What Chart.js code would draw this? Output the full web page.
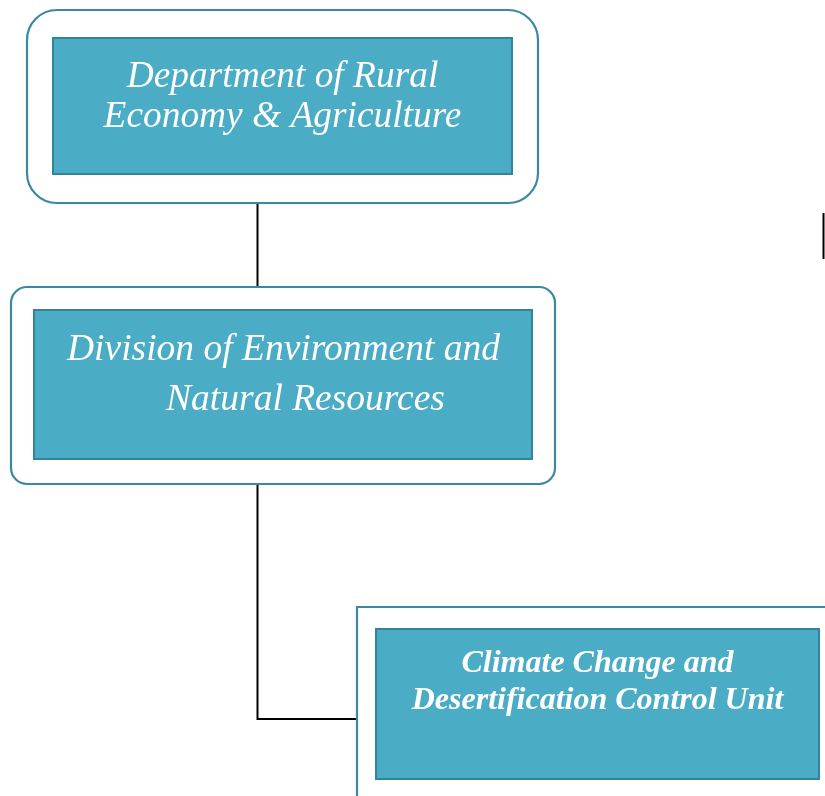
<!DOCTYPE html>
<html>
<head>
<meta charset="utf-8">
<script src="https://cdn.jsdelivr.net/npm/chart.js@4.4.1/dist/chart.umd.min.js"></script>
<style>
html,body{margin:0;padding:0;background:#fff;}
#wrap{width:825px;height:796px;position:relative;}
</style>
</head>
<body>
<div id="wrap"><canvas id="c" width="825" height="796"></canvas></div>
<script>
// ---- data ----
const nodeNames = [
  "Department of Rural Economy & Agriculture",
  "Division of Environment and Natural Resources",
  "Climate Change and Desertification Control Unit"
];
const nodeLines = [
  ["Department of Rural", "Economy & Agriculture"],
  ["Division of Environment and", "Natural Resources"],
  ["Climate Change and", "Desertification Control Unit"]
];
const nodeParents = [null, 0, 1];
const nodeLevels = [0, 1, 2];

// ---- layout / style (axis units, 1 unit = 1px) ----
const outerBoxes = [[27, 10, 538, 203, 30], [11, 287, 555, 484, 16], [357, 607, 840, 810, 0]];
const innerBoxes = [[53, 38, 512, 174], [34, 310, 532, 459], [376, 629, 819, 779]];
const textPos = [[[282.5, 87], [282.5, 127]], [[283.5, 360], [305.5, 410]], [[597.5, 672], [597.5, 709]]];
const textFonts = ['italic 37.4px "Liberation Serif"', 'italic 37.5px "Liberation Serif"', 'bold italic 32px "Liberation Serif"'];
const connectorPaths = {
  1: [[257.5, 203], [257.5, 287]],
  2: [[257.5, 484], [257.5, 719], [357, 719]]
};
const extraLines = [[[823.5, 213], [823.5, 259]]];
const fillColor = '#4BACC6', innerStroke = '#31849B', outerStroke = '#3A88A1';

const points = nodeNames.map((n, i) => ({
  x: (innerBoxes[i][0] + innerBoxes[i][2]) / 2,
  y: (innerBoxes[i][1] + innerBoxes[i][3]) / 2,
  name: n, level: nodeLevels[i]
}));

function rr(ctx, x0, y0, x1, y1, r) {
  ctx.beginPath();
  if (r > 0) {
    ctx.moveTo(x0 + r, y0);
    ctx.lineTo(x1 - r, y0);
    ctx.arcTo(x1, y0, x1, y0 + r, r);
    ctx.lineTo(x1, y1 - r);
    ctx.arcTo(x1, y1, x1 - r, y1, r);
    ctx.lineTo(x0 + r, y1);
    ctx.arcTo(x0, y1, x0, y1 - r, r);
    ctx.lineTo(x0, y0 + r);
    ctx.arcTo(x0, y0, x0 + r, y0, r);
    ctx.closePath();
  } else {
    ctx.rect(x0, y0, x1 - x0, y1 - y0);
  }
}

const orgPlugin = {
  id: 'org',
  afterDatasetsDraw(chart) {
    const ctx = chart.ctx, xs = chart.scales.x, ys = chart.scales.y;
    const X = v => xs.getPixelForValue(v), Y = v => ys.getPixelForValue(v);
    ctx.save();
    // connectors
    ctx.strokeStyle = '#000';
    ctx.lineWidth = 2;
    nodeParents.forEach((p, i) => {
      if (p === null) return;
      const path = connectorPaths[i];
      ctx.beginPath();
      path.forEach((pt, k) => k ? ctx.lineTo(X(pt[0]), Y(pt[1])) : ctx.moveTo(X(pt[0]), Y(pt[1])));
      ctx.stroke();
    });
    extraLines.forEach(path => {
      ctx.beginPath();
      path.forEach((pt, k) => k ? ctx.lineTo(X(pt[0]), Y(pt[1])) : ctx.moveTo(X(pt[0]), Y(pt[1])));
      ctx.stroke();
    });
    // boxes
    points.forEach((pt, i) => {
      const o = outerBoxes[i];
      rr(ctx, X(o[0]), Y(o[1]), X(o[2]), Y(o[3]), o[4]);
      ctx.fillStyle = '#fff';
      ctx.fill();
      ctx.lineWidth = 2.2;
      ctx.strokeStyle = outerStroke;
      ctx.stroke();
      const b = innerBoxes[i];
      ctx.beginPath();
      ctx.rect(X(b[0]), Y(b[1]), X(b[2]) - X(b[0]), Y(b[3]) - Y(b[1]));
      ctx.fillStyle = fillColor;
      ctx.fill();
      ctx.lineWidth = 2;
      ctx.strokeStyle = innerStroke;
      ctx.stroke();
      ctx.fillStyle = '#fff';
      ctx.font = textFonts[i];
      ctx.textAlign = 'center';
      ctx.textBaseline = 'alphabetic';
      nodeLines[i].forEach((line, k) => {
        const tp = textPos[i][k];
        ctx.fillText(line, X(tp[0]), Y(tp[1]));
      });
    });
    ctx.restore();
  }
};

new Chart(document.getElementById('c'), {
  type: 'scatter',
  data: { datasets: [{ data: points, pointRadius: 0, pointHoverRadius: 0 }] },
  options: {
    responsive: false,
    animation: false,
    events: [],
    layout: { padding: 0 },
    plugins: { legend: { display: false }, tooltip: { enabled: false } },
    scales: {
      x: { type: 'linear', min: 0, max: 825, display: false },
      y: { type: 'linear', min: 0, max: 796, reverse: true, display: false }
    }
  },
  plugins: [orgPlugin]
});
</script>
</body>
</html>
